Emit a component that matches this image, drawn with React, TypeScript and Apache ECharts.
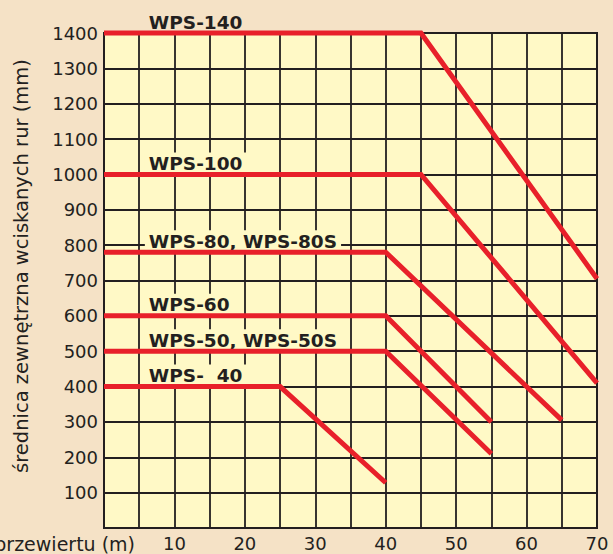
import React, { useEffect, useRef } from "react";
import * as echarts from "echarts";

const xTicks = [0, 10, 20, 30, 40, 50, 60, 70];
const yTicks = [100, 200, 300, 400, 500, 600, 700, 800, 900, 1000, 1100, 1200, 1300, 1400];

const seriesNames = ["WPS-140", "WPS-100", "WPS-80, WPS-80S", "WPS-60", "WPS-50, WPS-50S", "WPS-  40"];
const wps140 = [[0, 1400], [45, 1400], [70, 705]];
const wps100 = [[0, 1000], [45, 1000], [70, 410]];
const wps80 = [[0, 780], [40, 780], [65, 305]];
const wps60 = [[0, 600], [40, 600], [55, 300]];
const wps50 = [[0, 500], [40, 500], [55, 210]];
const wps40 = [[0, 400], [25, 400], [40, 128]];
const seriesData = [wps140, wps100, wps80, wps60, wps50, wps40];

const xName = "długość przewiertu (m)";
const yName = "średnica zewnętrzna wciskanych rur (mm)";
const labelX = 5.8;

const BG = "#f5e2c6";
const PLOT = "#fff9c6";
const INK = "#231f20";
const RED = "#e8202a";
const FONT = "DejaVu Sans";

export default function App() {
  const ref = useRef<HTMLDivElement>(null);
  useEffect(() => {
    if (!ref.current) return;
    const chart = echarts.init(ref.current, undefined, { renderer: "svg" });
    chart.setOption({
      animation: false,
      backgroundColor: BG,
      grid: {
        left: 104,
        right: 16,
        top: 33,
        bottom: 26,
        show: true,
        backgroundColor: PLOT,
        borderColor: INK,
        borderWidth: 2,
      },
      xAxis: {
        type: "value",
        min: 0,
        max: 70,
        interval: 5,
        axisLine: { show: true, lineStyle: { color: INK, width: 2 } },
        axisTick: { show: false },
        splitLine: { show: true, lineStyle: { color: INK, width: 1.8 } },
        axisLabel: {
          color: INK,
          fontFamily: FONT,
          fontSize: 18,
          margin: 6,
          formatter: (v: number) => (v !== 0 && xTicks.includes(v) ? String(v) : ""),
        },
      },
      yAxis: {
        type: "value",
        min: 0,
        max: 1400,
        interval: 100,
        axisLine: { show: true, lineStyle: { color: INK, width: 2 } },
        axisTick: { show: false },
        splitLine: { show: true, lineStyle: { color: INK, width: 1.8 } },
        axisLabel: {
          color: INK,
          fontFamily: FONT,
          fontSize: 18,
          margin: 6,
          formatter: (v: number) => (yTicks.includes(v) ? String(v) : ""),
        },
      },
      series: seriesData.map((d, i) => ({
        type: "line",
        name: seriesNames[i],
        data: d,
        symbol: "none",
        clip: false,
        z: 20,
        lineStyle: { color: RED, width: 5, cap: "butt", join: "miter" },
      })),
    });

    const graphics: any[] = [];
    seriesData.forEach((d, i) => {
      const p = chart.convertToPixel({ gridIndex: 0 }, [labelX, d[0][1]]) as number[];
      graphics.push({
        type: "text",
        x: p[0],
        y: p[1] - 11,
        z: 3,
        style: {
          text: seriesNames[i],
          fill: INK,
          font: `bold 18.5px "${FONT}"`,
          textAlign: "left",
          textVerticalAlign: "middle",
          backgroundColor: i === 0 ? undefined : PLOT,
          padding: [3, 4, 0, 4],
        },
      });
    });
    graphics.push({
      type: "text",
      x: 135,
      y: 544,
      style: {
        text: xName,
        fill: INK,
        font: `19px "${FONT}"`,
        textAlign: "right",
        textVerticalAlign: "middle",
      },
    });
    graphics.push({
      type: "text",
      x: 21,
      y: 266,
      rotation: Math.PI / 2,
      style: {
        text: yName,
        fill: INK,
        font: `19.5px "${FONT}"`,
        textAlign: "center",
        textVerticalAlign: "middle",
      },
    });
    chart.setOption({ graphic: graphics });
    return () => chart.dispose();
  }, []);
  return (
    <div
      ref={ref}
      style={{ position: "fixed", left: 0, top: 0, width: 613, height: 554 }}
    />
  );
}
